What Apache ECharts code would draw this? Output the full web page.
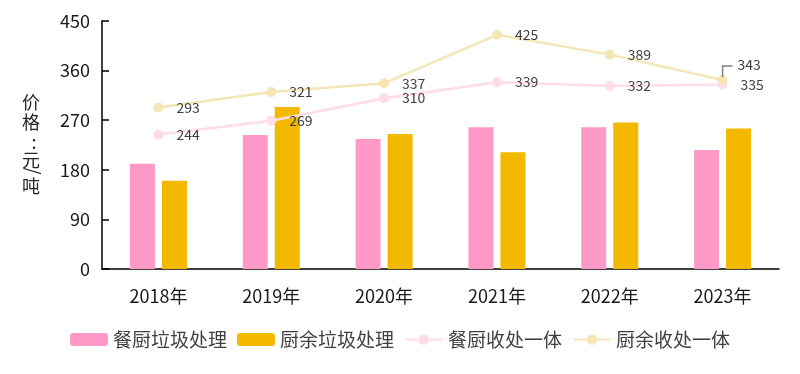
<!DOCTYPE html>
<html><head><meta charset="utf-8">
<script src="https://cdn.jsdelivr.net/npm/echarts@6/dist/echarts.min.js"></script>
<style>html,body{margin:0;padding:0;background:#fff}#c{width:800px;height:374px}</style>
</head><body><div id="c"></div>
<script>
var categories = ['2018年','2019年','2020年','2021年','2022年','2023年'];
var canyinBar = [191, 243, 236, 257, 257, 216];
var chuyuBar = [160, 294, 245, 212, 266, 255];
var canyinLine = [244, 269, 310, 339, 332, 335];
var chuyuLine = [293, 321, 337, 425, 389, 343];
var yTicks = [0, 90, 180, 270, 360, 450];
var yTitle = ['价','格',':','元','/','吨'];

var FONT = '"Noto Sans CJK SC", "Microsoft YaHei", sans-serif';
var chart = echarts.init(document.getElementById('c'));

var titleY = [102, 122, 142, 160, 171, 186];
var titleEls = yTitle.map(function(ch, i){
  var rot = (ch === '/') ? Math.PI/2 : 0;
  return {type:'text', x:(ch === ':' ? 34 : 31), y:titleY[i], rotation:rot,
    style:{text:ch, font:'18px ' + FONT, fill:'#262626', align:'center', verticalAlign:'middle'}};
});

var chuyuLineData = chuyuLine.map(function(v, i){
  if (i === chuyuLine.length - 1) {
    return {value:v, label:{offset:[-3, -15]}};
  }
  return v;
});

chart.setOption({
  animation:false,
  grid:{left:102, right:21, top:21, bottom:105},
  graphic: titleEls,
  legend:{
    top:325, left:'center', itemWidth:38, itemHeight:13, itemGap:10,
    textStyle:{fontSize:19, color:'#404040', fontFamily:FONT},
    data:['餐厨垃圾处理','厨余垃圾处理','餐厨收处一体','厨余收处一体']
  },
  xAxis:{
    type:'category', data:categories,
    axisLine:{lineStyle:{color:'#000', width:1.5}},
    axisTick:{inside:true, length:7, lineStyle:{color:'#000', width:1.5}},
    axisLabel:{fontSize:18, color:'#1a1a1a', fontFamily:FONT, margin:18}
  },
  yAxis:{
    type:'value', min:yTicks[0], max:yTicks[yTicks.length-1], interval:yTicks[1]-yTicks[0],
    axisLine:{show:true, lineStyle:{color:'#000', width:1.5}},
    axisTick:{show:true, inside:true, length:7, lineStyle:{color:'#000', width:1.5}},
    splitLine:{show:false},
    axisLabel:{fontSize:18, color:'#1a1a1a', fontFamily:FONT, margin:12}
  },
  series:[
    {name:'餐厨垃圾处理', type:'bar', data:canyinBar, barWidth:25, barGap:'28%',
     itemStyle:{color:'#FF99C7'}},
    {name:'厨余垃圾处理', type:'bar', data:chuyuBar, barWidth:25,
     itemStyle:{color:'#F2B900'}},
    {name:'餐厨收处一体', type:'line', data:canyinLine, symbol:'circle', symbolSize:10,
     lineStyle:{color:'#FFDCE8', width:2.5}, itemStyle:{color:'#FFDCE8'},
     label:{show:true, position:'right', distance:13, fontSize:14, color:'#404040', fontFamily:FONT}},
    {name:'厨余收处一体', type:'line', data:chuyuLineData, symbol:'circle', symbolSize:10,
     lineStyle:{color:'#F5E7B5', width:2.5}, itemStyle:{color:'#F5E7B5'},
     label:{show:true, position:'right', distance:13, fontSize:14, color:'#404040', fontFamily:FONT}}
  ]
});

// leader line for the last callout, anchored to the data point via the library's scales
var last = chuyuLine.length - 1;
var p = chart.convertToPixel({seriesIndex:3}, [last, chuyuLine[last]]);
chart.setOption({
  graphic: titleEls.concat([{
    type:'polyline', z:10,
    shape:{points:[[p[0], p[1]-3], [p[0], p[1]-14], [p[0]+10, p[1]-14]]},
    style:{stroke:'#7f7f7f', lineWidth:1.5, fill:null}
  }])
});
</script></body></html>
